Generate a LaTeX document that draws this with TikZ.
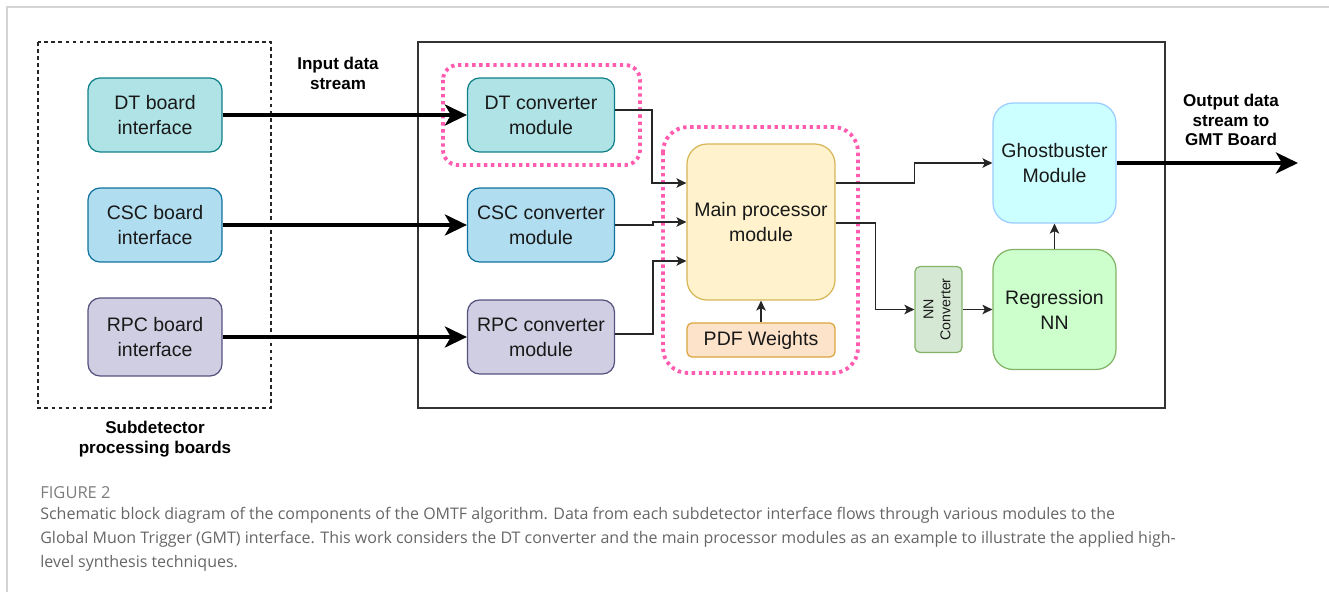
\documentclass[tikz,border=0pt]{standalone}
\usepackage{fontspec}
\setmainfont{Liberation Sans}
\newfontfamily\capfont{Open Sans}
\usepackage{tikz}
\usetikzlibrary{positioning,arrows.meta}
\usepackage{xcolor}
\definecolor{dtfill}{HTML}{B0E3E6}
\definecolor{dtline}{HTML}{0E8088}
\definecolor{cscfill}{HTML}{B1DDF0}
\definecolor{cscline}{HTML}{10739E}
\definecolor{rpcfill}{HTML}{D0CEE2}
\definecolor{rpcline}{HTML}{56517E}
\definecolor{mainfill}{HTML}{FFF2CC}
\definecolor{mainline}{HTML}{D6B656}
\definecolor{pdffill}{HTML}{FCE3C9}
\definecolor{pdfline}{HTML}{DBA43E}
\definecolor{nnfill}{HTML}{D5E8D4}
\definecolor{nnline}{HTML}{82B366}
\definecolor{regfill}{HTML}{CCFFCC}
\definecolor{ghostfill}{HTML}{CCFFFF}
\definecolor{ghostline}{HTML}{99CCFF}
\definecolor{hlspink}{RGB}{255,92,176}
\definecolor{capgray}{HTML}{666666}
\definecolor{edgegray}{HTML}{D4D4D4}

\tikzset{
  blk/.style={rectangle,rounded corners=0.24cm,draw,line width=0.7pt,
    align=center,inner sep=0pt,text=black!90,
    font=\fontsize{11.1}{14.2}\selectfont},
  board/.style={blk,minimum width=2.68cm,minimum height=1.48cm},
  conv/.style={blk,minimum width=2.94cm,minimum height=1.48cm},
  bigblk/.style={blk,rounded corners=0.4cm,minimum width=2.46cm,minimum height=2.4cm},
  flowlabel/.style={align=center,font=\fontsize{9.7}{11.3}\selectfont\bfseries},
  link/.style={draw=black!85,line width=0.75pt,
    -{Stealth[length=2mm,width=1.9mm,inset=0.5mm]}},
  bigarrow/.style={draw=black,line width=2.8pt,
    -{Stealth[length=4.4mm,width=4.2mm,inset=1.2mm]}},
  hlsbox/.style={draw=hlspink,line width=2.2pt,dash pattern=on 1.9pt off 2.1pt},
}

\begin{document}
\begin{tikzpicture}[x=0.02cm,y=-0.02cm]
\useasboundingbox (0,0) rectangle (1329,592);
\draw[edgegray,line width=0.7pt] (7,592) -- (7,7) -- (1329,7);

% board side and FPGA side
\draw[black!85,line width=0.6pt,dash pattern=on 2.2pt off 1.8pt] (38,42) rectangle (271,408);
\draw[black!80,line width=0.9pt] (418,42) rectangle (1165,408);
\draw[hlsbox,rounded corners=0.3cm] (443,65) rectangle (640,165);
\draw[hlsbox,rounded corners=0.5cm] (663,127) rectangle (858,373);

\node[board,fill=dtfill,draw=dtline] (dtb) at (155,115) {DT board\\interface};
\node[board,fill=cscfill,draw=cscline] (cscb) at (155,225) {CSC board\\interface};
\node[board,fill=rpcfill,draw=rpcline,minimum height=1.56cm] (rpcb) at (155,337) {RPC board\\interface};

\node[conv,fill=dtfill,draw=dtline] (dtc) at (541,115) {DT converter\\module};
\node[conv,fill=cscfill,draw=cscline] (cscc) at (541,225) {CSC converter\\module};
\node[conv,fill=rpcfill,draw=rpcline] (rpcc) at (541,337) {RPC converter\\module};

\node[blk,rounded corners=0.4cm,fill=mainfill,draw=mainline,
      minimum width=2.96cm,minimum height=3.12cm] (main) at (761,222) {Main processor\\module};
\node[blk,rounded corners=0.1cm,fill=pdffill,draw=pdfline,
      minimum width=2.96cm,minimum height=0.68cm] (pdf) at (761,340) {PDF Weights};

\node[blk,rounded corners=0.1cm,fill=nnfill,draw=nnline,
      minimum width=0.94cm,minimum height=1.72cm,
      font=\fontsize{8.1}{9.6}\selectfont] (nnc) at (938.5,309.5)
      {\rotatebox{90}{\begin{tabular}{@{}c@{}}NN\\Converter\end{tabular}}};
\node[bigblk,fill=regfill,draw=nnline] (reg) at (1054.5,309.5) {Regression\\NN};
\node[bigblk,fill=ghostfill,draw=ghostline] (ghost) at (1054.5,163) {Ghostbuster\\Module};
\coordinate (gmt) at (1298,163);

\node[flowlabel] (inlbl) at (338,73) {Input data\\stream};
\node[flowlabel] (outlbl) at (1231,120) {Output data\\stream to\\GMT Board};
\node[flowlabel] (sublbl) at (155,439) {Subdetector\\processing boards};

% input streams
\draw[bigarrow] (dtb) -- (dtc);
\draw[bigarrow] (cscb) -- (cscc);
\draw[bigarrow] (rpcb) -- (rpcc);

\draw[link] ([yshift=0.1cm]dtc.east) -- ++(0.74cm,0) |- ([yshift=0.78cm]main.west);
\draw[link] (cscc.east) -- ++(0.76cm,0) |- (main.west);
\draw[link] ([yshift=0.06cm]rpcc.east) -- ++(0.76cm,0) |- ([yshift=-0.78cm]main.west);
\draw[link] (pdf) -- (main);

\draw[link] ([yshift=0.78cm]main.east) -- ++(1.58cm,0) |- (ghost.west);
\draw[link] ([yshift=-0.02cm]main.east) -- ++(0.8cm,0) |- (nnc.west);
\draw[link] (nnc) -- (reg);
\draw[link] (reg) -- (ghost);

\draw[bigarrow] (ghost.east) -- (gmt);

% caption
\node[anchor=base west,inner sep=0pt,text=capgray!85,font=\capfont\fontsize{9.4}{12.8}\selectfont] (fignum) at (40,498) {FIGURE 2};
\node[anchor=north west,align=left,inner sep=0pt,text=capgray,
      font=\capfont\fontsize{9.1}{13.7}\selectfont] (caption) at (40,507)
  {Schematic block diagram of the components of the OMTF algorithm. Data from each subdetector interface flows through various modules to the\\
   Global Muon Trigger (GMT) interface. This work considers the DT converter and the main processor modules as an example to illustrate the applied high-\\
   level synthesis techniques.};
\end{tikzpicture}
\end{document}
